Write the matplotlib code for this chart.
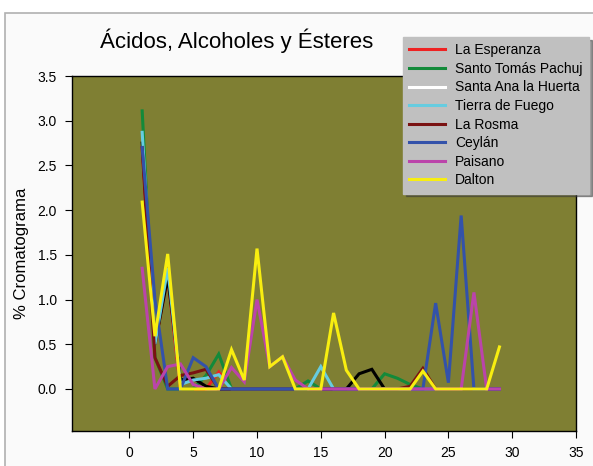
import matplotlib
matplotlib.use('Agg')
import matplotlib.pyplot as plt
from matplotlib.patches import Rectangle
from matplotlib.ticker import FormatStrFormatter

plt.rcParams['font.family'] = ['Liberation Sans', 'DejaVu Sans']

x = list(range(1, 30))
names = ['La Esperanza', 'Santo Tomás Pachuj', 'Santa Ana la Huerta', 'Tierra de Fuego',
         'La Rosma', 'Ceylán', 'Paisano', 'Dalton']
colors = ['#ee2222', '#138a3a', '#000000', '#66cce0', '#7a1212', '#3352aa', '#bb44aa', '#f8ee10']
legend_colors = ['#ee2222', '#138a3a', '#ffffff', '#66cce0', '#7a1212', '#3352aa', '#bb44aa', '#f8ee10']

esperanza = [2.7, 0.5, 1.25, 0, 0, 0, 0.19, 0] + [0.0] * 21
pachuj = [3.11, 0.35, 0, 0, 0, 0.15, 0.39, 0, 0, 0, 0, 0, 0, 0.09, 0,
          0, 0, 0, 0, 0.17, 0.12, 0.05, 0, 0, 0, 0, 0, 0, 0]
huerta = [2.75, 0.5, 1.25, 0.1, 0.12, 0.03, 0, 0, 0, 0, 0, 0, 0, 0, 0,
          0, 0, 0.17, 0.22, 0, 0, 0, 0, 0, 0, 0, 0, 0, 0]
fuego = [2.87, 0.5, 1.35, 0.05, 0.1, 0.12, 0.16, 0, 0, 0, 0, 0, 0, 0, 0.25,
         0, 0, 0, 0, 0, 0, 0, 0, 0, 0, 0, 0, 0, 0]
rosma = [2.7, 0.35, 0.03, 0.15, 0.18, 0.22, 0, 0, 0, 0, 0, 0, 0, 0, 0,
         0, 0, 0, 0, 0, 0, 0.03, 0.23, 0, 0, 0, 0, 0, 0]
ceylan = [2.7, 1.0, 0, 0, 0.35, 0.25, 0, 0, 0, 0, 0, 0, 0, 0, 0,
          0, 0, 0, 0, 0, 0, 0, 0, 0.96, 0.07, 1.94, 0, 0, 0]
paisano = [1.35, 0, 0.25, 0.28, 0.05, 0, 0, 0.24, 0.08, 1.0, 0.25, 0.36, 0.1, 0, 0,
           0, 0, 0, 0, 0, 0, 0, 0, 0, 0, 0, 1.08, 0, 0]
dalton = [2.09, 0.59, 1.51, 0, 0, 0, 0, 0.44, 0.1, 1.57, 0.25, 0.36, 0, 0, 0,
          0.85, 0.21, 0, 0, 0, 0, 0, 0.2, 0, 0, 0, 0, 0, 0.47]
series = [esperanza, pachuj, huerta, fuego, rosma, ceylan, paisano, dalton]

fig = plt.figure(figsize=(5.93, 4.66), dpi=100)
fig.patch.set_facecolor('white')
fig.patches.append(Rectangle((5 / 593, -0.1), 1.2, 1 - 13 / 466 + 0.1, transform=fig.transFigure,
                             facecolor='#fafafa', edgecolor='#b0b0b0', lw=1.2, zorder=-10))

ax = fig.add_axes([72 / 593, 1 - 431 / 466, (576 - 72) / 593, (431 - 76) / 466])
ax.set_facecolor('#7f7f33')

lines = []
for s, c, n in zip(series, colors, names):
    l, = ax.plot(x, s, color=c, lw=2.2, label=n, solid_joinstyle='miter')
    lines.append(l)

ax.set_xlim(-4.5, 35)
ax.set_ylim(-0.47, 3.5)
ax.set_xticks(range(0, 36, 5))
ax.set_yticks([0, 0.5, 1.0, 1.5, 2.0, 2.5, 3.0, 3.5])
ax.yaxis.set_major_formatter(FormatStrFormatter('%.1f'))
ax.tick_params(direction='out', length=5, labelsize=10, pad=6)
for sp in ax.spines.values():
    sp.set_linewidth(1.0)
ax.set_ylabel('% Cromatograma', fontsize=12, labelpad=6)

fig.text(100 / 593, 1 - 41 / 466, 'Ácidos, Alcoholes y Ésteres', fontsize=16, va='center', ha='left')

leg = fig.legend(lines, names, loc='upper left', bbox_to_anchor=(403 / 593, 1 - 37 / 466),
                 borderaxespad=0, fontsize=10, frameon=True, fancybox=False, shadow=True,
                 handlelength=2.6, labelspacing=0.33, borderpad=0.45, handletextpad=0.7)
leg.get_frame().set_facecolor('#c0c0c0')
leg.get_frame().set_edgecolor('#c0c0c0')
leg.get_frame().set_alpha(1)
for h, c in zip(leg.get_lines(), legend_colors):
    h.set_color(c)
    h.set_linewidth(2.2)

fig.savefig('out.png', dpi=100)
